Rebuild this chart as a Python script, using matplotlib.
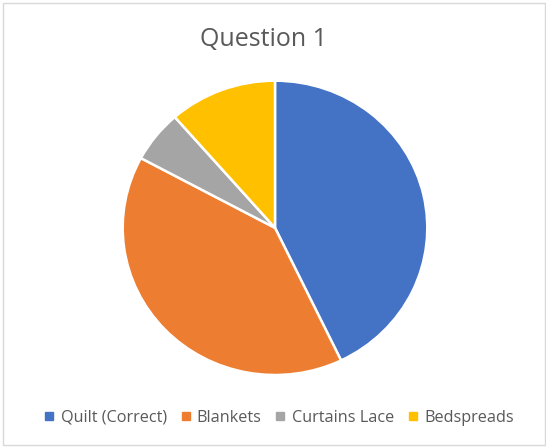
import matplotlib.pyplot as plt
from matplotlib.lines import Line2D
from matplotlib.patches import Rectangle

# Answer counts for Question 1
labels = ["Quilt (Correct)", "Blankets", "Curtains Lace", "Bedspreads"]
counts = [15, 14, 2, 4]
colors = ["#4472C4", "#ED7D31", "#A5A5A5", "#FFC000"]

W, H = 546, 447
fig = plt.figure(figsize=(W / 100, H / 100), dpi=100)
plt.rcParams['font.family'] = ['Open Sans', 'DejaVu Sans']

# chart border
fig.patches.append(Rectangle((3 / W, 2 / H), 542 / W, 442 / H, transform=fig.transFigure,
                             fill=False, edgecolor="#d9d9d9", linewidth=1.0))

ax = fig.add_axes([122.7 / W, 1 - 375 / H, 304.6 / W, 294.3 / H])
ax.pie(counts, colors=colors, startangle=90, counterclock=False, radius=1,
       wedgeprops=dict(edgecolor="white", linewidth=1.8))
ax.set_aspect('auto')
ax.set_xlim(-1, 1)
ax.set_ylim(-1, 1)

fig.text(263 / W, 1 - 40 / H, "Question 1", ha="center", va="center",
         fontsize=18, color="#595959")

handles = [Line2D([], [], marker="s", linestyle="none", markersize=5.5,
                  markerfacecolor=c, markeredgecolor=c) for c in colors]
fig.legend(handles, labels, loc="center", bbox_to_anchor=(279.5 / W, 1 - 418 / H),
           ncol=4, frameon=False, fontsize=11.7, labelcolor="#595959",
           handlelength=0.5, handletextpad=0.45, columnspacing=0.9)

fig.savefig("out.png", dpi=100)
